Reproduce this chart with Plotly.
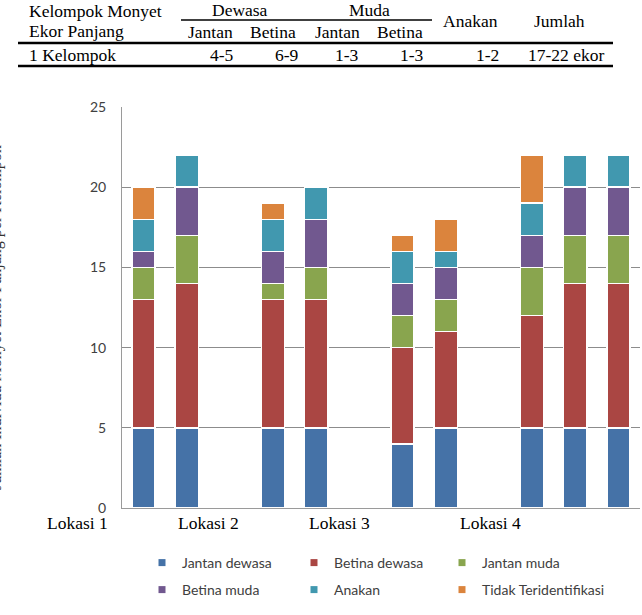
import plotly.graph_objects as go

# ---------------- data ----------------
categories = ["L1-a", "L1-b", "gap1", "L2-a", "L2-b", "gap2",
              "L3-a", "L3-b", "gap3", "L4-a", "L4-b", "L4-c"]
series_names = ["Jantan dewasa", "Betina dewasa", "Jantan muda",
                "Betina muda", "Anakan", "Tidak Teridentifikasi"]
jantan_dewasa = [5, 5, None, 5, 5, None, 4, 5, None, 5, 5, 5]
betina_dewasa = [8, 9, None, 8, 8, None, 6, 6, None, 7, 9, 9]
jantan_muda   = [2, 3, None, 1, 2, None, 2, 2, None, 3, 3, 3]
betina_muda   = [1, 3, None, 2, 3, None, 2, 2, None, 2, 3, 3]
anakan        = [2, 2, None, 2, 2, None, 2, 1, None, 2, 2, 2]
tidak_ident   = [2, 0, None, 1, 0, None, 1, 2, None, 3, 0, 0]
series_values = [jantan_dewasa, betina_dewasa, jantan_muda,
                 betina_muda, anakan, tidak_ident]
colors = ["#4572A7", "#AA4643", "#89A54E", "#71588F", "#4198AF", "#DB843D"]

lokasi_labels = ["Lokasi 1", "Lokasi 2", "Lokasi 3", "Lokasi 4"]
y_ticks = [0, 5, 10, 15, 20, 25]

table_header1 = ["Kelompok Monyet", "Ekor Panjang"]
table_groups = ["Dewasa", "Muda"]
table_sub = ["Jantan", "Betina", "Jantan", "Betina"]
table_side = ["Anakan", "Jumlah"]
table_row_label = "1 Kelompok"
table_row_values = ["4-5", "6-9", "1-3", "1-3", "1-2", "17-22 ekor"]

# ---------------- layout geometry ----------------
W, H = 642, 615
ML, MR, MT, MB = 122, 2, 107, 107
PW, PH = W - ML - MR, H - MT - MB


def px(x):
    return (x - ML) / PW


def py(y):
    return (H - MB - y) / PH


sans = "Lato, Carlito, Calibri, sans-serif"
serif = "Liberation Serif, Times New Roman, serif"

fig = go.Figure()
for name, vals, col in zip(series_names, series_values, colors):
    fig.add_trace(go.Bar(
        x=categories, y=vals, name=name,
        marker=dict(color=col, line=dict(color="white", width=1.5)),
        width=0.54, showlegend=False,
    ))

# legend: one small legend per entry, 3 columns x 2 rows
legend_cols = [142, 294, 442]
legend_rows = [563, 590]
legend_layout = {}
for i, (name, col) in enumerate(zip(series_names, colors)):
    key = "legend" if i == 0 else f"legend{i + 1}"
    fig.add_trace(go.Scatter(
        x=[None], y=[None], mode="markers", name=name,
        marker=dict(symbol="square", size=7, color=col),
        legend=key, showlegend=True,
    ))
    legend_layout[key] = dict(
        x=px(legend_cols[i % 3]), y=py(legend_rows[i // 3]),
        xanchor="left", yanchor="middle", orientation="h",
        font=dict(family=sans, size=14, color="#404040"),
        bgcolor="rgba(0,0,0,0)")

annotations = []
shapes = []


def text(x, y, s, size=17.5, anchor="center", font=serif, color="black", angle=0):
    annotations.append(dict(
        text=s, x=px(x), y=py(y), xref="paper", yref="paper",
        xanchor=anchor, yanchor="middle", showarrow=False, textangle=angle,
        font=dict(family=font, size=size, color=color)))


def hline(x0, x1, y, w):
    shapes.append(dict(type="line", xref="paper", yref="paper",
                       x0=px(x0), x1=px(x1), y0=py(y), y1=py(y),
                       line=dict(color="black", width=w)))


# table on top
text(27, 11, table_header1[0], anchor="left")
text(27, 31, table_header1[1], anchor="left")
text(240, 10, table_groups[0])
text(369, 10, table_groups[1])
for xc, s in zip([210, 273, 337, 400], table_sub):
    text(xc, 32, s)
text(470, 21, table_side[0])
text(559, 21, table_side[1])
text(27, 55, table_row_label, anchor="left")
for xc, s in zip([222, 287, 347, 412, 487, 566], table_row_values):
    text(xc, 55, s)
hline(181, 432, 20, 1.5)
hline(18, 613, 43, 2.5)
hline(18, 613, 66, 2.5)

# Lokasi labels
for xc, s in zip([77, 208, 339, 490], lokasi_labels):
    text(xc, 523, s, size=17.5)

# clipped y-axis title at the far left
text(-4, 318, "Jumlah Individu Monyet Ekor Panjang per Kelompok", size=16,
     angle=-90, color="#333333")

fig.update_layout(
    width=W, height=H,
    margin=dict(l=ML, r=MR, t=MT, b=MB, autoexpand=False),
    barmode="stack",
    plot_bgcolor="white", paper_bgcolor="white",
    showlegend=True,
    xaxis=dict(type="category", categoryorder="array", categoryarray=categories,
               showticklabels=False, ticks="", showgrid=False,
               showline=True, linecolor="#9a9a9a", linewidth=1,
               range=[-0.5, len(categories) - 0.5], fixedrange=True),
    yaxis=dict(range=[0, 25], tickvals=y_ticks, showgrid=True,
               gridcolor="#8c8c8c", gridwidth=1, zeroline=False,
               showline=True, linecolor="#9a9a9a", linewidth=1,
               ticks="", ticklabelstandoff=12,
               tickfont=dict(family=sans, size=14, color="#404040")),
    annotations=annotations,
    shapes=shapes,
    **legend_layout,
)

fig.write_html("out.html")
